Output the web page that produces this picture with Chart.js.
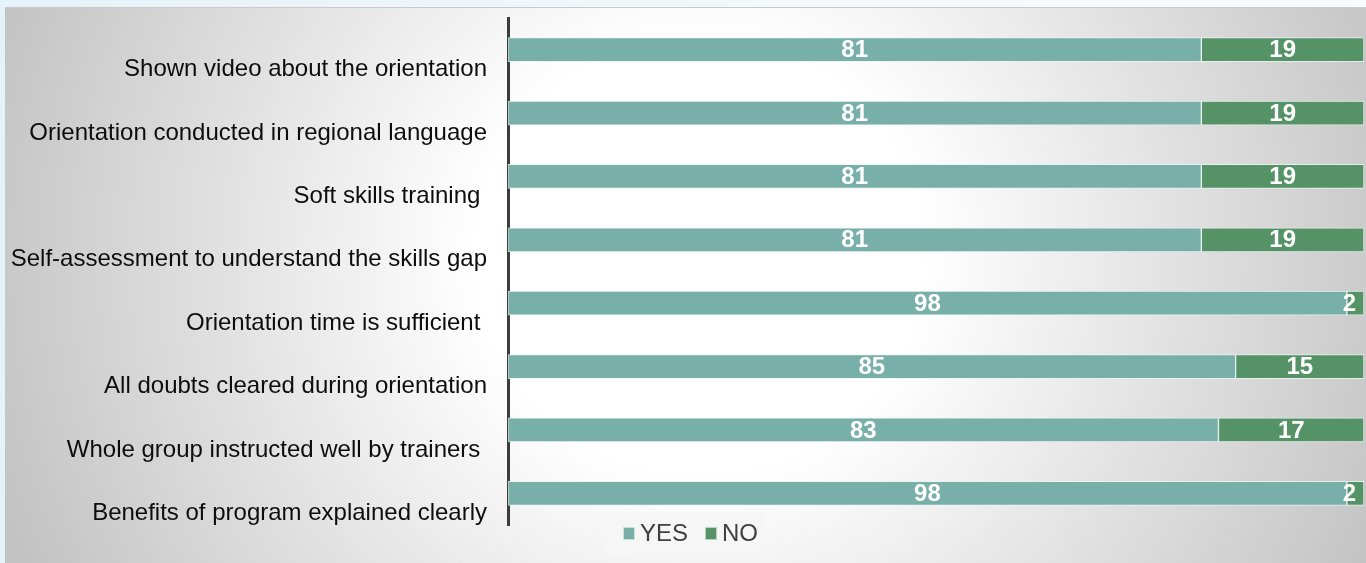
<!DOCTYPE html>
<html><head><meta charset="utf-8">
<script src="https://cdn.jsdelivr.net/npm/chart.js@4.4.1/dist/chart.umd.min.js"></script>
<style>
html,body{margin:0;padding:0;width:1366px;height:563px;overflow:hidden;background:linear-gradient(90deg,#e4f2f9,#f3f9fc 60%,#f7fbfd);}
#panel{position:absolute;left:5px;top:7px;width:1361px;height:556px;border-top:1px solid #cacaca;box-sizing:border-box;
background:radial-gradient(ellipse 740px 720px at 695px 248px,#ffffff 0%,#ffffff 30%,#c3c3c3 100%);}
#wrap{position:absolute;left:0;top:0;width:1366px;height:563px;}
</style></head>
<body><div id="panel"></div><div id="wrap"><canvas id="c" width="1366" height="563"></canvas></div>
<script>
const categories = [
  'Shown video about the orientation',
  'Orientation conducted in regional language',
  'Soft skills training ',
  'Self-assessment to understand the skills gap',
  'Orientation time is sufficient ',
  'All doubts cleared during orientation',
  'Whole group instructed well by trainers ',
  'Benefits of program explained clearly'
];
const yesValues = [81, 81, 81, 81, 98, 85, 83, 98];
const noValues  = [19, 19, 19, 19, 2, 15, 17, 2];
const seriesNames = ['YES', 'NO'];
const seriesColors = ['#78afa9', '#559367'];

const FONT = "'Liberation Sans', Arial, sans-serif";

const valueLabels = {
  id: 'valueLabels',
  afterDatasetsDraw(chart) {
    const ctx = chart.ctx;
    ctx.save();
    ctx.font = 'bold 24px ' + FONT;
    ctx.fillStyle = '#ffffff';
    ctx.textAlign = 'center';
    ctx.textBaseline = 'middle';
    chart.data.datasets.forEach((ds, di) => {
      const meta = chart.getDatasetMeta(di);
      meta.data.forEach((bar, i) => {
        const txt = String(ds.data[i]);
        const w = ctx.measureText(txt).width;
        let cx = (bar.x + bar.base) / 2;
        cx = Math.min(cx, chart.chartArea.right - w / 2 - 8);
        ctx.fillText(txt, cx, bar.y + 1);
      });
    });
    ctx.restore();
  }
};

const customLegend = {
  id: 'customLegend',
  afterDraw(chart) {
    const ctx = chart.ctx;
    ctx.save();
    const bx = 606, by = 512, bw = 159, bh = 42;
    ctx.fillStyle = 'rgba(246,246,246,0.95)';
    ctx.fillRect(bx, by, bw, bh);
    ctx.font = '24px ' + FONT;
    ctx.textBaseline = 'middle';
    ctx.textAlign = 'left';
    let x = bx + 17;
    const cy = 533.5;
    chart.data.datasets.forEach((ds, di) => {
      ctx.fillStyle = ds.backgroundColor;
      ctx.fillRect(x, cy - 6.5, 12, 13);
      ctx.strokeStyle = 'rgba(255,255,255,0.6)';
      ctx.lineWidth = 1;
      ctx.strokeRect(x + 0.5, cy - 6, 11, 12);
      x += 17;
      ctx.fillStyle = '#404040';
      ctx.fillText(ds.label, x, cy + 1);
      x += ctx.measureText(ds.label).width + 17;
    });
    ctx.restore();
  }
};

new Chart(document.getElementById('c'), {
  type: 'bar',
  data: {
    labels: categories,
    datasets: [
      { label: seriesNames[0], data: yesValues, backgroundColor: seriesColors[0] },
      { label: seriesNames[1], data: noValues, backgroundColor: seriesColors[1] }
    ].map(d => Object.assign(d, {
      barThickness: 24,
      borderWidth: 1,
      borderColor: 'rgba(235,245,243,0.85)',
      borderSkipped: false
    }))
  },
  options: {
    responsive: false,
    animation: false,
    indexAxis: 'y',
    layout: { padding: { top: 18, bottom: 38, right: 2, left: 0 } },
    scales: {
      x: { stacked: true, min: 0, max: 100, display: false },
      y: {
        stacked: true,
        grid: { display: false, drawTicks: false },
        border: { display: true, color: '#3c3c3c', width: 3 },
        ticks: { font: { family: FONT, size: 24 }, color: '#0d0d0d', padding: 21, labelOffset: 20 },
        afterFit(s) { s.width = 508; s.paddingTop = 0; s.paddingBottom = 0; }
      }
    },
    plugins: { legend: { display: false }, tooltip: { enabled: false } }
  },
  plugins: [valueLabels, customLegend]
});
</script>
</body></html>
